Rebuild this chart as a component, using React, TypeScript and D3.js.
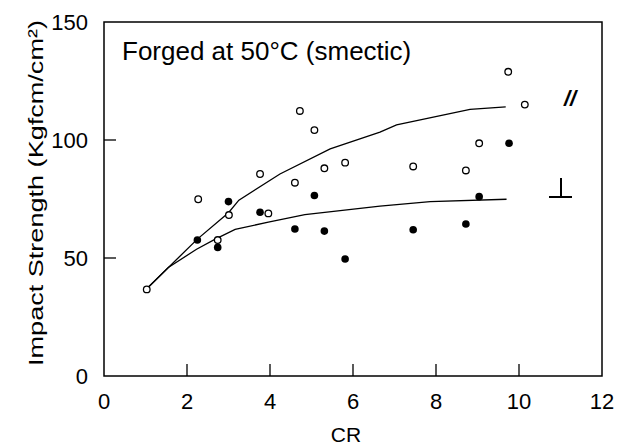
import * as d3 from 'd3';

// values (CR vs impact strength)
const openCR = [1.03, 2.27, 2.74, 3.01, 3.76, 3.96, 4.6, 4.72, 5.07, 5.31, 5.81, 7.45, 8.72, 9.04, 9.74, 10.14];
const openImpact = [36.7, 74.9, 57.6, 68.2, 85.6, 68.9, 81.9, 112.3, 104.2, 88.0, 90.4, 88.8, 87.1, 98.6, 128.9, 115.0];

const filledCR = [2.25, 2.74, 3.0, 3.76, 4.6, 5.07, 5.31, 5.81, 7.45, 8.72, 9.04, 9.76];
const filledImpact = [57.6, 54.5, 73.9, 69.4, 62.3, 76.5, 61.4, 49.6, 62.0, 64.4, 76.0, 98.6];

// parallel (//) fit curve
const parCR = [1.03, 2.25, 3.0, 3.25, 4.24, 5.45, 6.65, 7.05, 8.82, 9.68];
const parImpact = [37, 58, 69.2, 74.5, 85.6, 96.2, 103.3, 106.4, 113.0, 114.0];

// perpendicular fit curve
const perpCR = [1.03, 1.55, 2.23, 2.67, 3.16, 3.96, 4.84, 6.65, 7.86, 9.7];
const perpImpact = [37, 46, 53.7, 57.9, 62.1, 65.2, 68.4, 72, 73.9, 74.9];

const xTicks = [0, 2, 4, 6, 8, 10, 12];
const yTicks = [0, 50, 100, 150];

const font = '"Liberation Sans", Arial, Helvetica, sans-serif';

function App() {
    const width = 622;
    const height = 445;
    const margin = { top: 22, right: 20, bottom: 69, left: 104 };

    const xScale = d3.scaleLinear()
        .domain([0, 12])
        .range([margin.left, width - margin.right]);
    const yScale = d3.scaleLinear()
        .domain([0, 150])
        .range([height - margin.bottom, margin.top]);

    const line = d3.line<[number, number]>()
        .x(d => xScale(d[0]))
        .y(d => yScale(d[1]));

    const par = parCR.map((c, i) => [c, parImpact[i]] as [number, number]);
    const perp = perpCR.map((c, i) => [c, perpImpact[i]] as [number, number]);

    const x0 = xScale(0), x1 = xScale(12);
    const y0 = yScale(0), y1 = yScale(150);
    const tick = 12;

    return (
        <svg width={width} height={height} style={{ position: 'absolute', left: 0, top: 0, background: '#fff' }}
            fontFamily={font}>
            <rect x={x0} y={y1} width={x1 - x0} height={y0 - y1} fill="none" stroke="#000" strokeWidth={1.5} />

            {xTicks.map(t => (
                <g key={'x' + t}>
                    {t > 0 && t < 12 && <line x1={xScale(t)} x2={xScale(t)} y1={y0} y2={y0 - tick} stroke="#000" strokeWidth={1.3} />}
                    <text x={xScale(t)} y={409} textAnchor="middle" fontSize={22}>{t}</text>
                </g>
            ))}
            {yTicks.map(t => (
                <g key={'y' + t}>
                    {t > 0 && t < 150 && <line x1={x0} x2={x0 + tick} y1={yScale(t)} y2={yScale(t)} stroke="#000" strokeWidth={1.3} />}
                    <text x={88} y={yScale(t) + 8} textAnchor="end" fontSize={22}>{t}</text>
                </g>
            ))}

            <text x={346} y={442} textAnchor="middle" fontSize={21}>CR</text>
            <text transform="translate(43,193) rotate(-90)" textAnchor="middle" fontSize={21}
                textLength={346} lengthAdjust="spacingAndGlyphs">Impact Strength (Kgfcm/cm²)</text>

            <text x={122} y={60} fontSize={26}>Forged at 50°C (smectic)</text>

            <path d={line(par) ?? ''} fill="none" stroke="#000" strokeWidth={1.3} />
            <path d={line(perp) ?? ''} fill="none" stroke="#000" strokeWidth={1.3} />

            {filledCR.map((c, i) => (
                <circle key={'f' + i} cx={xScale(c)} cy={yScale(filledImpact[i])} r={3.8} fill="#000" />
            ))}
            {openCR.map((c, i) => (
                <circle key={'o' + i} cx={xScale(c)} cy={yScale(openImpact[i])} r={3.3} fill="#fff" stroke="#000" strokeWidth={1.3} />
            ))}

            <text x={564} y={106} fontSize={22} fontStyle="italic" fontWeight="bold">//</text>
            <line x1={561} x2={561} y1={178} y2={197} stroke="#000" strokeWidth={2} />
            <line x1={549} x2={572} y1={197} y2={197} stroke="#000" strokeWidth={2} />
        </svg>
    );
}

export default App;
